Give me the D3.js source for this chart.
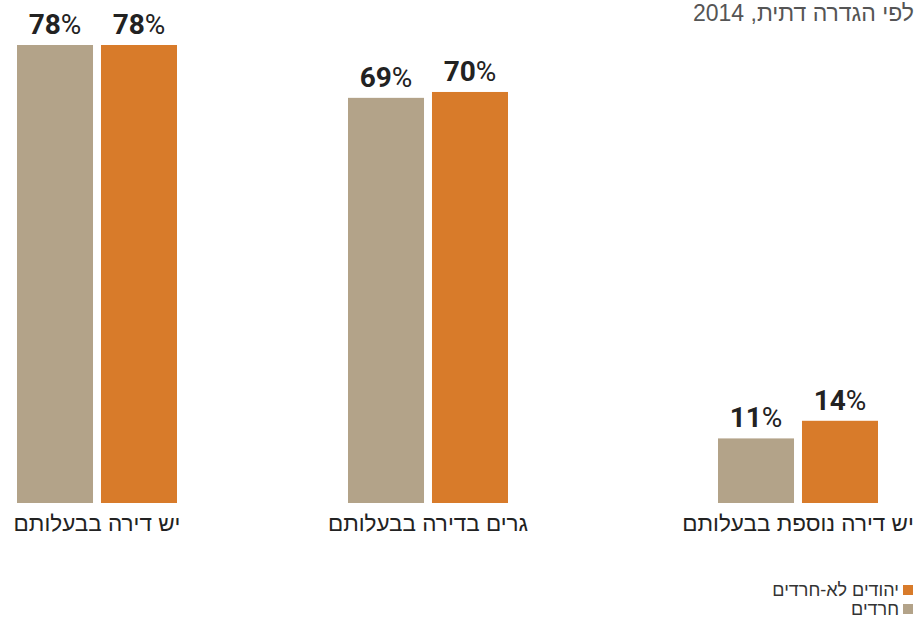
<!DOCTYPE html>
<html><head><meta charset="utf-8">
<script src="https://cdn.jsdelivr.net/npm/d3@7"></script>
<style>
body{margin:0;background:#fff;}
svg{display:block;}
</style></head>
<body>
<script>
const categories = ["יש דירה בבעלותם", "גרים בדירה בבעלותם", "יש דירה נוספת בבעלותם"];
const seriesNames = ["חרדים", "יהודים לא-חרדים"];
const haredi = [78, 69, 11];
const nonHaredi = [78, 70, 14];
const subtitle = "לפי הגדרה דתית, 2014";
const colors = ["#b3a389", "#d87b2a"];

const W = 919, H = 626;
const svg = d3.select("body").append("svg").attr("width", W).attr("height", H);

// group centers (uneven spacing as in the original layout)
const x0 = d3.scaleOrdinal().domain(categories).range([97, 428, 798]);
const x1 = d3.scaleBand().domain(seriesNames).range([-80, 80]).paddingInner(0.095);
const y = d3.scaleLinear().domain([0, 78]).range([503, 45]);

// subtitle
svg.append("text").attr("x", 914).attr("y", 21)
  .attr("direction", "rtl").attr("text-anchor", "start")
  .attr("font-family", "Liberation Sans, Arial, sans-serif").attr("font-size", 23)
  .attr("fill", "#555").text(subtitle);

const data = categories.map((c, i) => ({cat: c, vals: [haredi[i], nonHaredi[i]]}));

const g = svg.selectAll("g.grp").data(data).join("g")
  .attr("class", "grp")
  .attr("transform", d => `translate(${x0(d.cat)},0)`);

g.selectAll("rect").data(d => d.vals.map((v, j) => ({v, s: seriesNames[j], j})))
  .join("rect")
  .attr("x", d => x1(d.s)).attr("width", x1.bandwidth())
  .attr("y", d => y(d.v)).attr("height", d => y(0) - y(d.v))
  .attr("fill", d => colors[d.j]);

const lbl = g.selectAll("text.val").data(d => d.vals.map((v, j) => ({v, s: seriesNames[j], j})))
  .join("text").attr("class", "val")
  .attr("x", d => x1(d.s) + x1.bandwidth() / 2)
  .attr("y", d => y(d.v) - 11)
  .attr("text-anchor", "middle")
  .attr("font-family", "Roboto, Liberation Sans, sans-serif")
  .attr("font-size", 28).attr("fill", "#222");
lbl.append("tspan").attr("font-weight", "bold").text(d => d.v);
lbl.append("tspan").attr("font-weight", "normal").text("%");

g.append("text")
  .attr("x", 0).attr("y", 531)
  .attr("direction", "rtl").attr("text-anchor", "middle")
  .attr("font-family", "Liberation Sans, Arial, sans-serif")
  .attr("font-size", 22.5).attr("fill", "#222")
  .text(d => d.cat);

// legend
const legendItems = [seriesNames[1], seriesNames[0]];
const leg = svg.selectAll("g.leg").data(legendItems).join("g").attr("class", "leg")
  .attr("transform", (d, i) => `translate(0,${585 + i * 19})`);
leg.append("rect").attr("x", 903).attr("y", 0).attr("width", 10).attr("height", 10)
  .attr("fill", d => colors[seriesNames.indexOf(d)]);
leg.append("text").attr("x", 899).attr("y", 11)
  .attr("direction", "rtl").attr("text-anchor", "start")
  .attr("font-family", "Liberation Sans, Arial, sans-serif")
  .attr("font-size", 18).attr("fill", "#333").text(d => d);
</script>
</body></html>
